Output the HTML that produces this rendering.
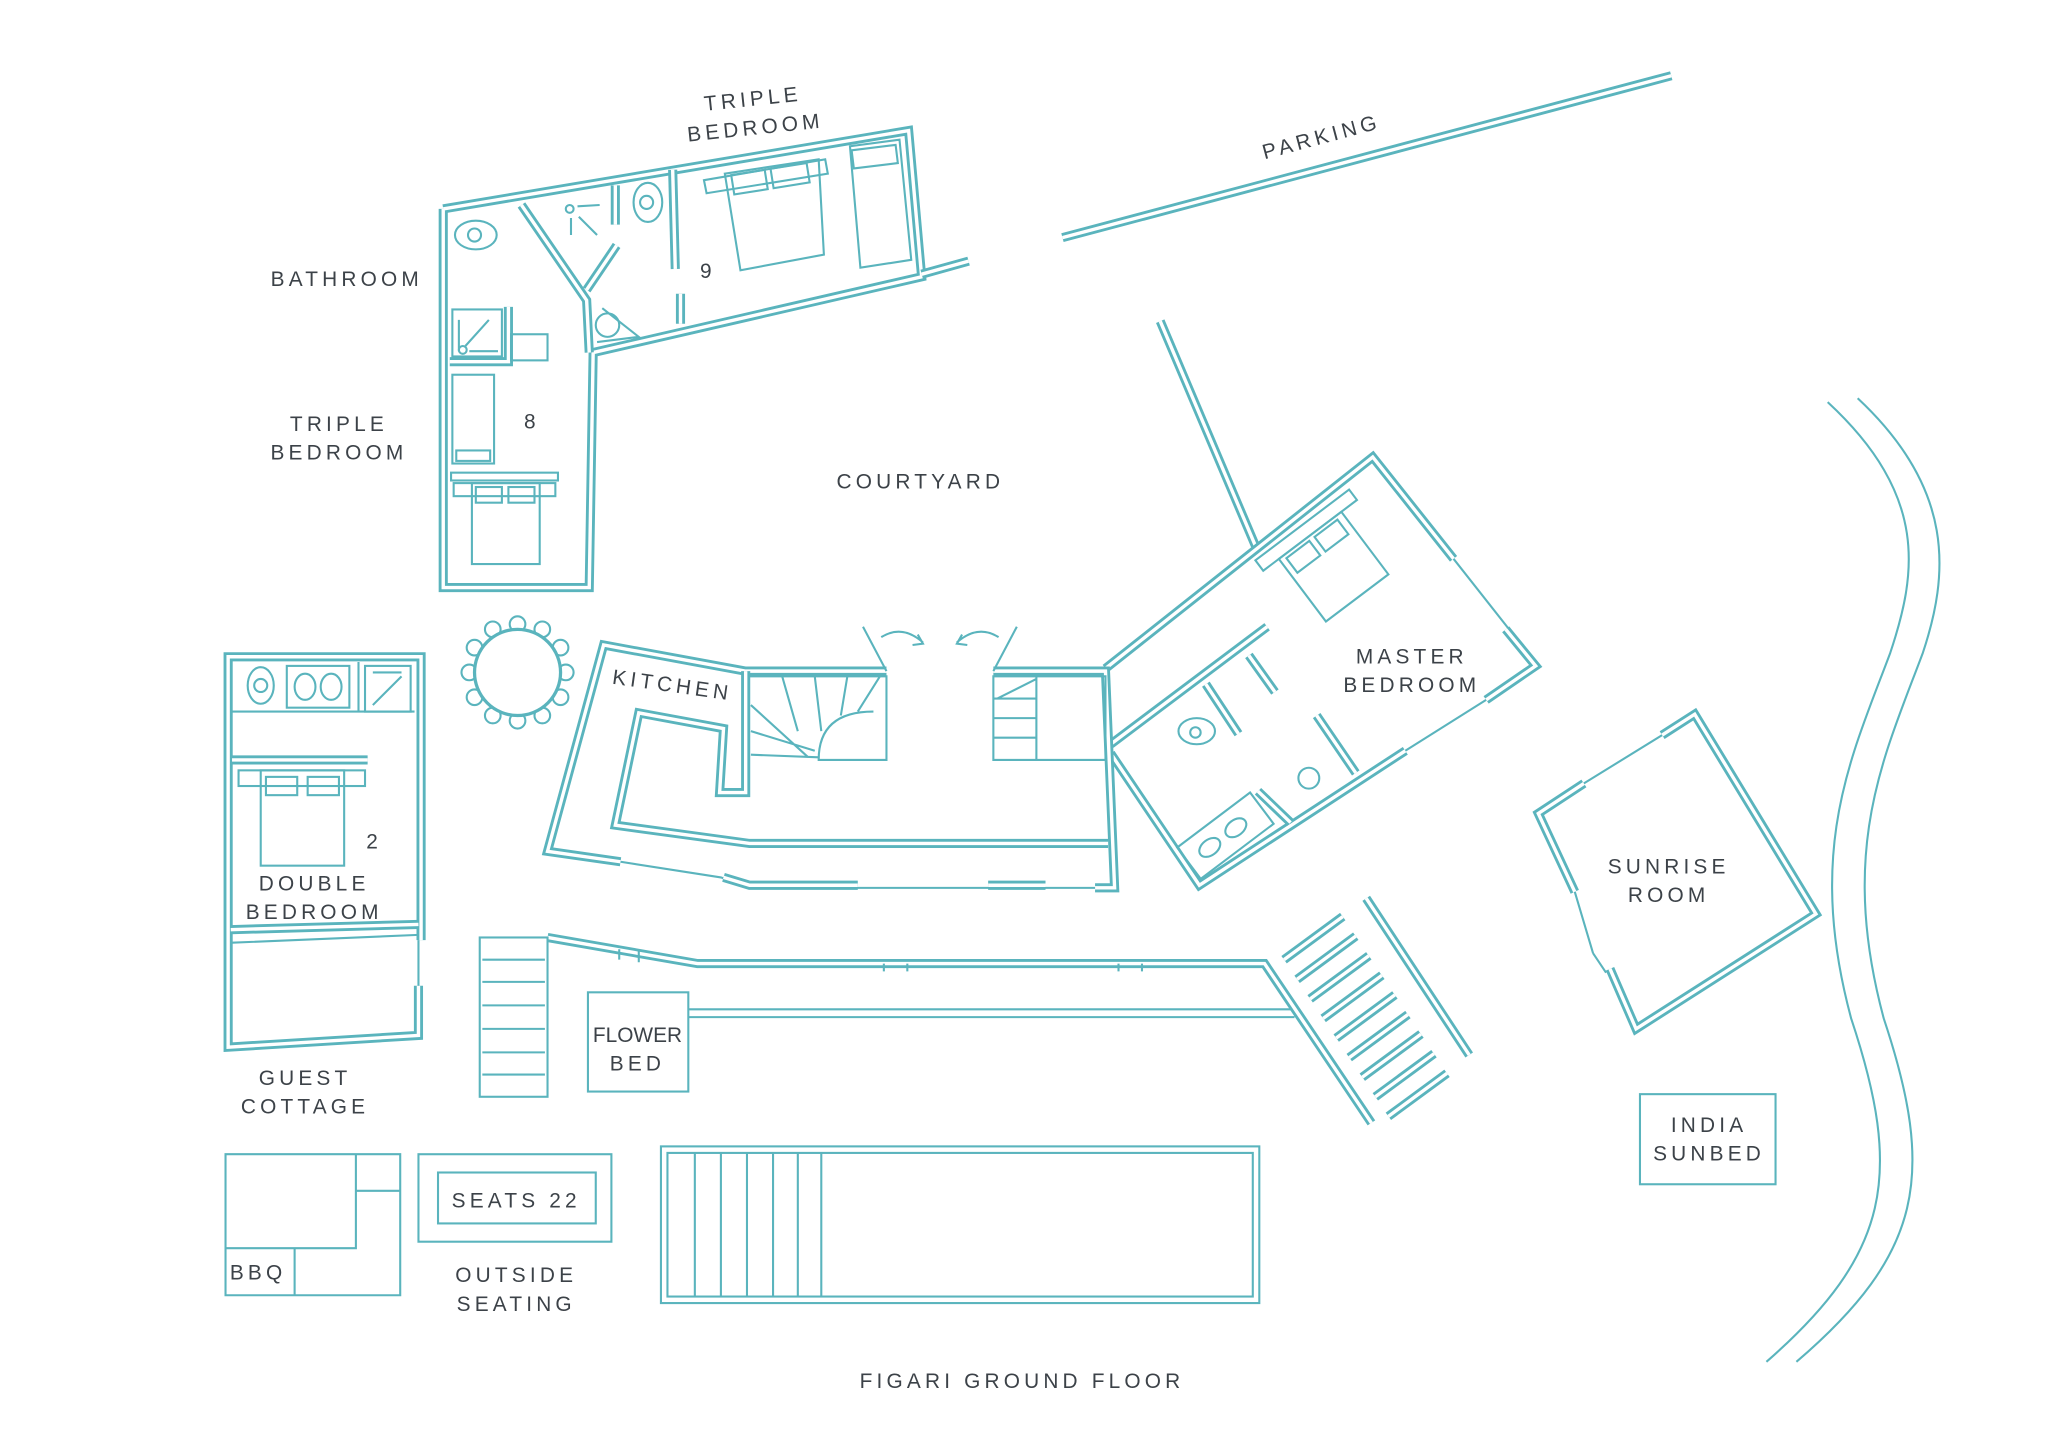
<!DOCTYPE html>
<html><head><meta charset="utf-8"><style>
html,body{margin:0;padding:0;background:#fff;}
svg{display:block;}
text{font-family:"Liberation Sans",sans-serif;fill:#3c4248;font-size:16px;letter-spacing:3.2px;}
.w{fill:none;stroke:#5ab4bd;stroke-width:7;stroke-linejoin:miter;}
.i{fill:none;stroke:#fff;stroke-width:2.6;stroke-linejoin:miter;}
.t{fill:none;stroke:#5ab4bd;stroke-width:1.6;}
.f{fill:#fff;stroke:#5ab4bd;stroke-width:1.6;}
</style></head><body>
<svg width="2048" height="1448" viewBox="0 0 1571 1109" preserveAspectRatio="none">
<defs>
<g id="chair"><rect x="-6" y="-6" width="12" height="12" rx="6" class="f"/></g>
</defs>
<g>
<polyline points="340,160 697,100 707,212 455,270 452,450 340,450 340,160" class="w"/>
<polyline points="340,160 697,100 707,212 455,270 452,450 340,450 340,160" class="i"/>
<polyline points="707,210 743,200" class="w"/><polyline points="707,210 743,200" class="i"/>
<polyline points="400,157 450,230 452,270" class="w"/><polyline points="400,157 450,230 452,270" class="i"/>
<polyline points="450,222 473,188" class="w"/><polyline points="450,222 473,188" class="i"/>
<polyline points="472,142 472,172" class="w"/><polyline points="472,142 472,172" class="i"/>
<polyline points="516,130 518,206" class="w"/><polyline points="516,130 518,206" class="i"/>
<polyline points="522,225 522,248" class="w"/><polyline points="522,225 522,248" class="i"/>
<polyline points="345,277 390,277 390,235" class="w"/><polyline points="345,277 390,277 390,235" class="i"/>
<rect x="347" y="237" width="38" height="36" class="t"/>
<rect x="392" y="256" width="28" height="20" class="t"/>
<ellipse cx="365" cy="180" rx="16" ry="11" class="t"/><circle cx="364" cy="180" r="5" class="t"/>
<ellipse cx="497" cy="155" rx="11" ry="15" class="t"/><circle cx="496" cy="155" r="5" class="t"/>
<circle cx="466" cy="249" r="9" class="t"/>
<path d="M458 262 L490 258 L462 236" class="t"/>
<circle cx="437" cy="160" r="3" class="t"/><path d="M443 158 L460 157 M438 167 L438 180 M444 166 L458 180" class="t"/>
<path d="M352 269 L352 245 M357 265 L375 245 M360 269 L382 269" class="t"/><circle cx="355" cy="268" r="3" class="t"/>
<rect x="347" y="287" width="32" height="68" class="t"/><rect x="350" y="345" width="26" height="8" class="t"/>
<rect x="346" y="362" width="82" height="6" class="t"/>
<rect x="348" y="370" width="78" height="10" class="t"/>
<rect x="362" y="370" width="52" height="62" class="t"/>
<rect x="365" y="373" width="20" height="12" class="t"/><rect x="390" y="373" width="20" height="12" class="t"/>
<path d="M540 138 L633 122 L635 133 L542 148 Z" class="t"/>
<path d="M556 133 L628 122 L632 195 L568 207 Z" class="t"/>
<rect x="562" y="132" width="26" height="15" class="t" transform="rotate(-9 575 140)"/>
<rect x="592" y="127" width="28" height="15" class="t" transform="rotate(-9 606 134)"/>
<path d="M652 112 L690 107 L699 199 L660 205 Z" class="t"/>
<rect x="654" y="113" width="34" height="14" class="t" transform="rotate(-7 671 120)"/>
</g>
<polyline points="815,182 1282,58" class="w"/><polyline points="815,182 1282,58" class="i"/>
<polyline points="890,246 963,418" class="w"/><polyline points="890,246 963,418" class="i"/>
<polyline points="848,512 1053,350 1115,428" class="w"/><polyline points="848,512 1053,350 1115,428" class="i"/>
<path d="M1115,428 L1160,485" class="t"/>
<polyline points="1155,482 1178,510 1140,536" class="w"/><polyline points="1155,482 1178,510 1140,536" class="i"/>
<path d="M1140,536 L1078,575" class="t"/>
<polyline points="1078,575 920,678 852,577" class="w"/><polyline points="1078,575 920,678 852,577" class="i"/>
<polyline points="852,570 972,480" class="w"/><polyline points="852,570 972,480" class="i"/>
<polyline points="958,502 978,530" class="w"/><polyline points="958,502 978,530" class="i"/>
<polyline points="925,524 950,562" class="w"/><polyline points="925,524 950,562" class="i"/>
<polyline points="1010,548 1040,592" class="w"/><polyline points="1010,548 1040,592" class="i"/>
<polyline points="965,606 990,630" class="w"/><polyline points="965,606 990,630" class="i"/>
<circle cx="1004" cy="596" r="8" class="t"/>
<ellipse cx="918" cy="560" rx="14" ry="10" class="t"/><circle cx="917" cy="561" r="4" class="t"/>
<g transform="rotate(-37 940 640)"><rect x="905" y="625" width="70" height="30" class="t"/><ellipse cx="925" cy="640" rx="9" ry="6" class="t"/><ellipse cx="950" cy="640" rx="9" ry="6" class="t"/></g>
<g transform="rotate(-37 1020 430)"><rect x="975" y="395" width="90" height="10" class="t"/><rect x="990" y="405" width="60" height="60" class="t"/><rect x="995" y="408" width="22" height="14" class="t"/><rect x="1022" y="408" width="22" height="14" class="t"/></g>
<polyline points="680,514 572,514 463,494 420,652 476,660" class="w"/><polyline points="680,514 572,514 463,494 420,652 476,660" class="i"/>
<polyline points="762,514 848,514 855,680 840,680" class="w"/><polyline points="762,514 848,514 855,680 840,680" class="i"/>
<path d="M476,660 L553,672 L575,680 L840,680" class="t"/>
<polyline points="555,672 575,678 658,678" class="w"/><polyline points="555,672 575,678 658,678" class="i"/>
<polyline points="758,678 802,678" class="w"/><polyline points="758,678 802,678" class="i"/>
<polyline points="850,646 575,646 472,632 490,546 555,558 552,607 572,607 572,514" class="w"/><polyline points="850,646 575,646 472,632 490,546 555,558 552,607 572,607 572,514" class="i"/>
<path d="M575,518 L680,518 L680,582 L628,582 Q628,545 670,545 M576,540 L620,580 M576,560 L625,575 M576,578 L628,580 M600,518 L612,560 M625,518 L630,560 M650,518 L645,548 M675,518 L658,545" class="t"/>
<path d="M762,518 L848,518 L848,582 L762,582 Z M762,535 L795,535 M762,550 L795,550 M762,565 L795,565 M795,518 L795,582 M765,535 L795,520" class="t"/>
<path d="M662,480 L680,514 M780,480 L762,514" class="t"/>
<path d="M676,488 Q692,478 708,492 M704,486 L708,493 L700,494 M766,488 Q750,478 734,492 M738,486 L734,493 L742,494" class="t"/>
<g>
<use href="#chair" x="397" y="478"/><use href="#chair" x="397" y="552"/><use href="#chair" x="360" y="515"/><use href="#chair" x="434" y="515"/>
<use href="#chair" x="378" y="482"/><use href="#chair" x="416" y="482"/><use href="#chair" x="378" y="548"/><use href="#chair" x="416" y="548"/>
<use href="#chair" x="364" y="496"/><use href="#chair" x="430" y="496"/><use href="#chair" x="364" y="534"/><use href="#chair" x="430" y="534"/>
</g>
<circle cx="397" cy="515" r="33" fill="#fff" stroke="#5ab4bd" stroke-width="2.5"/>
<polyline points="321,755 321,793 175,802 175,503 323,503 323,720" class="w"/><polyline points="321,755 321,793 175,802 175,503 323,503 323,720" class="i"/>
<polyline points="177,712 321,708" class="w"/><polyline points="177,712 321,708" class="i"/>
<path d="M178,722 L321,716 M321,720 L321,755" class="t"/>
<polyline points="178,582 282,582" class="w"/><polyline points="178,582 282,582" class="i"/>
<path d="M178,545 L318,545 M275,545 L275,507" class="t"/>
<ellipse cx="200" cy="525" rx="10" ry="14" class="t"/><circle cx="200" cy="525" r="5" class="t"/>
<rect x="220" y="510" width="48" height="32" class="t"/><ellipse cx="234" cy="526" rx="8" ry="10" class="t"/><ellipse cx="254" cy="526" rx="8" ry="10" class="t"/>
<rect x="280" y="510" width="35" height="35" class="t"/><path d="M286 540 L308 518 M286 515 L308 515" class="t"/>
<rect x="183" y="590" width="97" height="12" class="t"/><rect x="200" y="590" width="64" height="73" class="t"/>
<rect x="204" y="595" width="24" height="14" class="t"/><rect x="236" y="595" width="24" height="14" class="t"/>
<polyline points="420,718 535,738 970,738 1052,860" class="w"/><polyline points="420,718 535,738 970,738 1052,860" class="i"/>
<rect x="368" y="718" width="52" height="122" class="t" stroke-width="3"/>
<path d="M370,735 L418,735 M370,752 L418,752 M370,770 L418,770 M370,788 L418,788 M370,806 L418,806 M370,823 L418,823" class="t"/>
<path d="M528,773 L990,773 M528,779 L993,779" class="t"/>
<path d="M475,727 L475,735 M490,728 L490,737 M678,738 L678,744 M696,738 L696,744 M858,738 L858,744 M876,738 L876,744" class="t"/>
<polyline points="1048,688 1127,808" class="w"/><polyline points="1048,688 1127,808" class="i"/>
<g>
<line x1="985" y1="735" x2="1030" y2="702" class="w" stroke-width="5"/><line x1="985" y1="735" x2="1030" y2="702" class="i" stroke-width="2"/>
<line x1="995" y1="750" x2="1040" y2="717" class="w" stroke-width="5"/><line x1="995" y1="750" x2="1040" y2="717" class="i" stroke-width="2"/>
<line x1="1005" y1="765" x2="1050" y2="732" class="w" stroke-width="5"/><line x1="1005" y1="765" x2="1050" y2="732" class="i" stroke-width="2"/>
<line x1="1015" y1="780" x2="1060" y2="747" class="w" stroke-width="5"/><line x1="1015" y1="780" x2="1060" y2="747" class="i" stroke-width="2"/>
<line x1="1025" y1="795" x2="1070" y2="762" class="w" stroke-width="5"/><line x1="1025" y1="795" x2="1070" y2="762" class="i" stroke-width="2"/>
<line x1="1035" y1="810" x2="1080" y2="777" class="w" stroke-width="5"/><line x1="1035" y1="810" x2="1080" y2="777" class="i" stroke-width="2"/>
<line x1="1045" y1="825" x2="1090" y2="792" class="w" stroke-width="5"/><line x1="1045" y1="825" x2="1090" y2="792" class="i" stroke-width="2"/>
<line x1="1055" y1="840" x2="1100" y2="807" class="w" stroke-width="5"/><line x1="1055" y1="840" x2="1100" y2="807" class="i" stroke-width="2"/>
<line x1="1065" y1="855" x2="1110" y2="822" class="w" stroke-width="5"/><line x1="1065" y1="855" x2="1110" y2="822" class="i" stroke-width="2"/>
</g>
<rect x="451" y="760" width="77" height="76" class="t"/>
<rect x="507" y="878" width="459" height="120" class="t" stroke-width="2.5"/>
<rect x="512" y="883" width="449" height="110" class="t" stroke-width="2.5"/>
<path d="M533,883 L533,993 M553,883 L553,993 M573,883 L573,993 M593,883 L593,993 M612,883 L612,993 M630,883 L630,993" class="t"/>
<path d="M173,884 L307,884 L307,992 L173,992 Z M173,956 L273,956 L273,884 M273,912 L307,912 M226,956 L226,992" class="t"/>
<rect x="321" y="884" width="148" height="67" class="t"/><rect x="336" y="898" width="121" height="39" class="t" stroke-width="2.5"/>
<rect x="1258" y="838" width="104" height="69" class="t"/>
<polyline points="1215,600 1180,623 1208,683" class="w"/><polyline points="1215,600 1180,623 1208,683" class="i"/>
<path d="M1215,600 L1275,563 M1208,683 L1222,730 M1222,730 L1232,745" class="t"/>
<polyline points="1275,563 1300,547 1393,700 1255,788 1235,742" class="w"/><polyline points="1275,563 1300,547 1393,700 1255,788 1235,742" class="i"/>
<path d="M1402,308 C1480,380 1470,440 1450,500 C1420,580 1385,650 1420,780 C1460,900 1450,960 1355,1043" class="t"/>
<path d="M1425,305 C1500,375 1495,440 1475,500 C1445,580 1410,650 1445,780 C1485,900 1475,960 1378,1043" class="t"/>
<text x="578" y="81" text-anchor="middle" transform="rotate(-6 578 81)">TRIPLE</text>
<text x="580" y="103" text-anchor="middle" transform="rotate(-6 580 103)">BEDROOM</text>
<text x="1015" y="110" text-anchor="middle" transform="rotate(-15 1015 110)">PARKING</text>
<text x="266" y="219" text-anchor="middle">BATHROOM</text>
<text x="260" y="330" text-anchor="middle">TRIPLE</text>
<text x="260" y="352" text-anchor="middle">BEDROOM</text>
<text x="408" y="328" text-anchor="middle">8</text>
<text x="543" y="213" text-anchor="middle">9</text>
<text x="706" y="374" text-anchor="middle">COURTYARD</text>
<text x="515" y="530" text-anchor="middle" transform="rotate(8 515 530)">KITCHEN</text>
<text x="1083" y="508" text-anchor="middle">MASTER</text>
<text x="1083" y="530" text-anchor="middle">BEDROOM</text>
<text x="287" y="650" text-anchor="middle">2</text>
<text x="241" y="682" text-anchor="middle">DOUBLE</text>
<text x="241" y="704" text-anchor="middle">BEDROOM</text>
<text x="1280" y="669" text-anchor="middle">SUNRISE</text>
<text x="1280" y="691" text-anchor="middle">ROOM</text>
<text x="489" y="798" text-anchor="middle" style="letter-spacing:0">FLOWER</text>
<text x="489" y="820" text-anchor="middle">BED</text>
<text x="234" y="831" text-anchor="middle">GUEST</text>
<text x="234" y="853" text-anchor="middle">COTTAGE</text>
<text x="1311" y="867" text-anchor="middle">INDIA</text>
<text x="1311" y="889" text-anchor="middle">SUNBED</text>
<text x="396" y="925" text-anchor="middle">SEATS 22</text>
<text x="198" y="980" text-anchor="middle">BBQ</text>
<text x="396" y="982" text-anchor="middle">OUTSIDE</text>
<text x="396" y="1004" text-anchor="middle">SEATING</text>
<text x="784" y="1063" text-anchor="middle">FIGARI GROUND FLOOR</text>
</svg>
</body></html>
